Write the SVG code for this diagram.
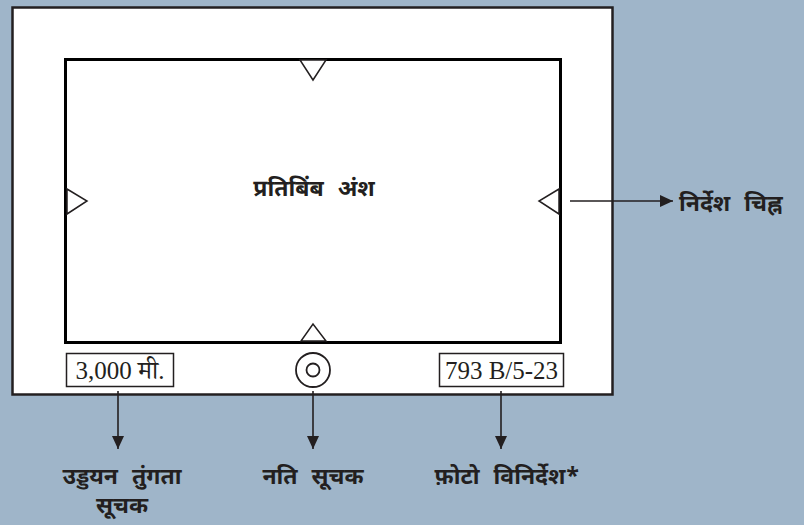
<svg xmlns="http://www.w3.org/2000/svg" width="804" height="525" viewBox="0 0 804 525">
<defs>
<marker id="ah" markerWidth="14" markerHeight="12" refX="13" refY="6" orient="auto" markerUnits="userSpaceOnUse">
<path d="M0,0 L13,6 L0,12 Z" fill="#231f20"/>
</marker>
<style>
.lbl{font-family:"Noto Sans Devanagari","Noto Sans",sans-serif;font-weight:bold;font-size:23px;word-spacing:8px;fill:#231f20}
.num{font-family:"Liberation Serif","Noto Serif Devanagari","Noto Sans Devanagari",serif;font-size:25px;fill:#231f20}
.tri{fill:#fff;stroke:#231f20;stroke-width:1.5}
.conn{stroke:#231f20;stroke-width:1.6;fill:none}
</style>
</defs>
<rect x="0" y="0" width="804" height="525" fill="#9fb5c9"/>
<g id="frame">
<rect x="12.5" y="7.5" width="600" height="387" fill="#fff" stroke="#231f20" stroke-width="2.5"/>
</g>
<g id="image-area">
<rect x="65.5" y="59.5" width="495" height="283" fill="#fff" stroke="#000" stroke-width="3"/>
<text class="lbl" x="314" y="196" text-anchor="middle">प्रतिबिंब अंश</text>
</g>
<g id="marks">
<polygon class="tri" points="300,60 326,60 313,80"/>
<polygon class="tri" points="301,341 326,341 313,324"/>
<polygon class="tri" points="67,189 87,201 67,214"/>
<polygon class="tri" points="559,189 539,201 559,214"/>
</g>
<g id="altitude">
<rect x="66.5" y="353.5" width="107" height="33" fill="#fff" stroke="#231f20" stroke-width="1.5"/>
<text class="num" x="120" y="379" text-anchor="middle">3,000 मी.</text>
</g>
<g id="tilt">
<circle cx="313" cy="370" r="17" fill="#fff" stroke="#231f20" stroke-width="1.8"/>
<circle cx="313" cy="370" r="6.5" fill="none" stroke="#231f20" stroke-width="1.8"/>
</g>
<g id="photo-spec">
<rect x="439.5" y="353.5" width="124" height="33" fill="#fff" stroke="#231f20" stroke-width="1.5"/>
<text class="num" x="501.5" y="379" text-anchor="middle">793 B/5-23</text>
</g>
<g id="connectors">
<line class="conn" x1="570" y1="201" x2="673" y2="201" marker-end="url(#ah)"/>
<line class="conn" x1="118" y1="391" x2="118" y2="449" marker-end="url(#ah)"/>
<line class="conn" x1="313" y1="391" x2="313" y2="449" marker-end="url(#ah)"/>
<line class="conn" x1="501" y1="391" x2="501" y2="449" marker-end="url(#ah)"/>
</g>
<g id="label-marks">
<text class="lbl" x="679" y="211">निर्देश चिह्न</text>
</g>
<g id="label-altitude">
<text class="lbl" x="122" y="484" text-anchor="middle">उड्डयन तुंगता</text>
<text class="lbl" x="122" y="513" text-anchor="middle">सूचक</text>
</g>
<g id="label-tilt">
<text class="lbl" x="313" y="484" text-anchor="middle">नति सूचक</text>
</g>
<g id="label-photo">
<text class="lbl" x="507" y="484" text-anchor="middle">फ़ोटो विनिर्देश*</text>
</g>
</svg>
